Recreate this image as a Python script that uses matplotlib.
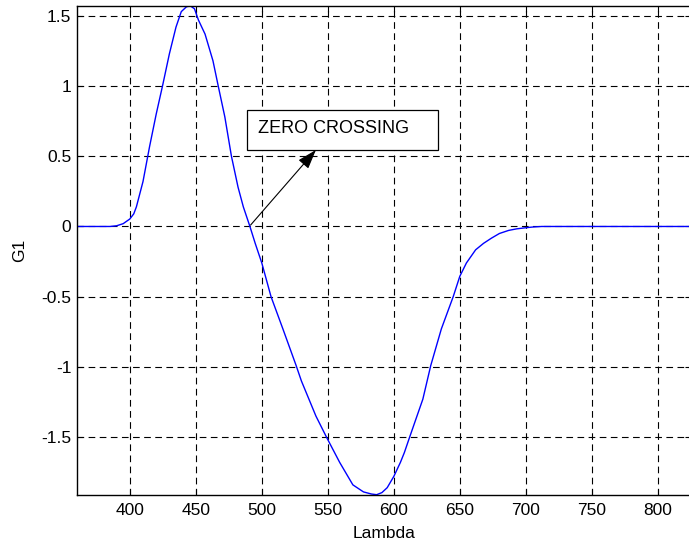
import numpy as np
import matplotlib
matplotlib.use("Agg")
import matplotlib.pyplot as plt
from matplotlib.patches import Rectangle

# values
lam = [360, 385, 390, 395, 398, 400, 403, 405, 410, 415, 420, 425, 430, 435, 439, 443, 446,
       449, 452, 457, 463, 467, 472, 477, 482, 486, 491, 495, 500, 507, 516, 526, 530, 541,
       549, 559, 569, 577, 583, 587, 591, 595, 600, 605, 608, 612, 622, 628, 636,
       645, 650, 655, 662, 668, 674, 680, 687, 693, 700, 705, 712, 750, 825]
g1 = [0, 0, 0.005, 0.02, 0.04, 0.053, 0.09, 0.14, 0.32, 0.57, 0.80, 1.01, 1.23, 1.42, 1.53, 1.565, 1.57,
      1.55, 1.47, 1.37, 1.18, 1.0, 0.78, 0.5, 0.28, 0.14, 0, -0.12, -0.26, -0.5, -0.73, -0.99, -1.10, -1.35,
      -1.5, -1.68, -1.84, -1.89, -1.905, -1.91, -1.895, -1.86, -1.78, -1.68, -1.61, -1.5, -1.23, -0.99, -0.73,
      -0.5, -0.355, -0.26, -0.166, -0.12, -0.083, -0.05, -0.028, -0.017, -0.009, -0.004, 0, 0, 0]

xticks = [400, 450, 500, 550, 600, 650, 700, 750, 800]
yticks = [-1.5, -1, -0.5, 0, 0.5, 1, 1.5]
ytick_labels = ["-1.5", "-1", "-0.5", "0", "0.5", "1", "1.5"]
note = "ZERO CROSSING"

plt.rcParams['font.family'] = ['Liberation Sans', 'DejaVu Sans']

fig = plt.figure(figsize=(6.89, 5.43), dpi=100)
ax = fig.add_axes([77 / 689, 48.3 / 543, 613.8 / 689, 488.7 / 543])

ax.plot(lam, g1, color=(0, 0, 1), lw=1.0)
ax.set_xlim(360, 825)
ax.set_ylim(-1.91, 1.57)

ax.set_xticks(xticks)
ax.set_yticks(yticks)
ax.set_yticklabels(ytick_labels)
ax.tick_params(direction='in', length=4, width=0.8, top=True, right=True,
               labelsize=12.5)
ax.tick_params(axis='x', pad=6)
ax.tick_params(axis='y', pad=4)
ax.grid(True, color='black', linestyle=(0, (6, 4)), linewidth=0.8)
for s in ax.spines.values():
    s.set_linewidth(1.0)

ax.set_xlabel("Lambda", fontsize=12.5, labelpad=6)
ax.set_ylabel("G1", fontsize=12.5, labelpad=10.5)

# annotation box + arrow
ax.add_patch(Rectangle((488.8, 0.545), 633.3 - 488.8, 0.829 - 0.545,
                       facecolor='white', edgecolor='black', lw=0.9, zorder=5))
ax.text(497.5, 0.70, note, fontsize=13, va='center', ha='left', zorder=6)
ax.annotate("", xy=(541, 0.545), xytext=(491.5, 0.01),
            arrowprops=dict(arrowstyle='-|>,head_length=1.2,head_width=0.4',
                            color='black', lw=0.8, shrinkA=0, shrinkB=0),
            zorder=6)

fig.savefig("out.png", dpi=100)
